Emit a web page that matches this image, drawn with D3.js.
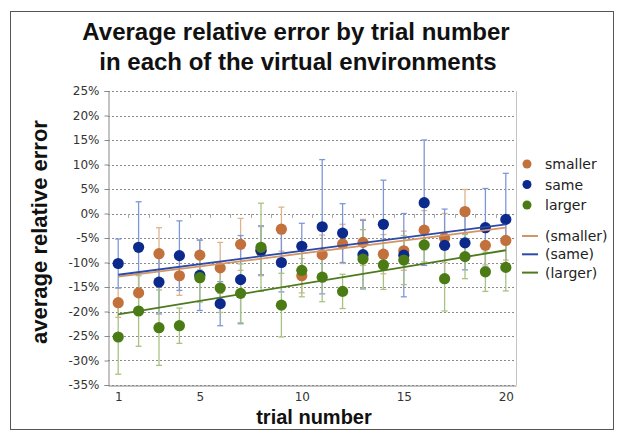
<!DOCTYPE html>
<html>
<head>
<meta charset="utf-8">
<script src="https://cdn.jsdelivr.net/npm/d3@7"></script>
<style>
  body { margin: 0; background: #fff; }
  svg { display: block; }
</style>
</head>
<body>
<svg id="chart" width="624" height="436"></svg>
<script>
// data (percent)
const trials = [1, 2, 3, 4, 5, 6, 7, 8, 9, 10, 11, 12, 13, 14, 15, 16, 17, 18, 19, 20];
const xTickLabels = [1, 5, 10, 15, 20];
const yTicks = [25, 20, 15, 10, 5, 0, -5, -10, -15, -20, -25, -30, -35];

const smaller = [-18.2, -16.2, -8.2, -12.7, -8.5, -11.1, -6.3, -7.7, -3.2, -12.7, -8.4, -6.2, -5.9, -8.3, -7.6, -3.4, -5.0, 0.4, -6.5, -5.5];
const smallerErr = [3, 4, 5.3, 4, 3, 5.2, 5.3, 5, 4.5, 3.5, 4, 4, 4.7, 4, 4, 4, 5, 4.5, 4, 4];

const same = [-10.2, -6.9, -14.0, -8.6, -12.6, -18.4, -13.5, -7.5, -10.0, -6.7, -2.7, -4.0, -8.4, -2.2, -8.5, 2.2, -6.5, -6.0, -2.9, -1.2];
const sameErr = [5, 9.3, 6.5, 7.1, 7.2, 4.5, 9, 5, 6, 4.7, 13.7, 6, 7, 9, 8.5, 12.8, 7.4, 5.5, 8, 9.4];

const larger = [-25.2, -19.9, -23.3, -22.9, -13.1, -15.2, -16.3, -6.9, -18.7, -11.6, -13.0, -15.9, -9.3, -10.5, -9.5, -6.4, -13.3, -8.8, -11.9, -11.0];
const largerErr = [7.6, 7.2, 7.7, 3.6, 5, 5, 6, 9, 6.5, 5.4, 5, 3.5, 6, 5, 5, 3.5, 6.6, 4.5, 4, 4.8];

// linear trend lines, value at trial 1 and trial 20
const trendSmaller = [-12.9, -2.9];
const trendSame = [-12.5, -2.2];
const trendLarger = [-20.6, -7.5];

const seriesNames = ["smaller", "same", "larger"];
const trendNames = ["(smaller)", "(same)", "(larger)"];

const series = [
    { name: seriesNames[0], vals: smaller, err: smallerErr, trend: trendSmaller,
      dot: "#c2703c", bar: "#dcb48e", line: "#d39468" },
    { name: seriesNames[1], vals: same, err: sameErr, trend: trendSame,
      dot: "#0c2a8c", bar: "#7d98d8", line: "#2c4ba6" },
    { name: seriesNames[2], vals: larger, err: largerErr, trend: trendLarger,
      dot: "#4b7b15", bar: "#a9c283", line: "#4d7a1e" }
];

const svg = d3.select("#chart");
const font = "'DejaVu Sans', sans-serif";
const boldFont = "'Liberation Sans', Arial, sans-serif";

// outer frame
svg.append("rect")
    .attr("x", 10.5).attr("y", 11.5)
    .attr("width", 603).attr("height", 418)
    .attr("fill", "none")
    .attr("stroke", "#555");

const x = d3.scaleLinear().domain([0.5, 20.5]).range([108, 516]);
const y = d3.scaleLinear().domain([-35, 25]).range([385, 91]);

// grid
svg.append("g")
    .selectAll("line")
    .data(yTicks)
    .enter()
    .append("line")
    .attr("x1", x(0.5)).attr("x2", x(20.5))
    .attr("y1", d => Math.round(y(d)) + 0.5)
    .attr("y2", d => Math.round(y(d)) + 0.5)
    .attr("stroke", "#8a8a8a")
    .attr("stroke-dasharray", "2,2");

// plot frame: right border, left and bottom axis lines
svg.append("line")
    .attr("x1", Math.round(x(20.5)) + 0.5).attr("x2", Math.round(x(20.5)) + 0.5)
    .attr("y1", y(25)).attr("y2", y(-35))
    .attr("stroke", "#c4c4c4");

const yAxis = d3.axisLeft(y)
    .tickValues(yTicks)
    .tickSize(4)
    .tickFormat(d => d + "%");
svg.append("g")
    .attr("transform", `translate(${Math.round(x(0.5)) + 0.5},0)`)
    .call(yAxis)
    .call(g => {
        g.select(".domain").attr("stroke", "#888");
        g.selectAll(".tick line").attr("stroke", "#888");
        g.selectAll("text")
            .attr("font-family", font)
            .attr("font-size", 12)
            .attr("fill", "#333")
            .attr("x", -9);
    });

const xAxis = d3.axisBottom(x)
    .tickValues(xTickLabels)
    .tickSize(0)
    .tickPadding(7);
svg.append("g")
    .attr("transform", `translate(0,${Math.round(y(-35)) + 0.5})`)
    .call(xAxis)
    .call(g => {
        g.select(".domain").attr("stroke", "#888");
        g.selectAll("text")
            .attr("font-family", font)
            .attr("font-size", 12)
            .attr("fill", "#333");
    });

// small category ticks sitting on the 0% line
svg.append("g")
    .selectAll("line")
    .data(d3.range(1.5, 20.5, 1))
    .enter()
    .append("line")
    .attr("x1", d => Math.round(x(d)) + 0.5).attr("x2", d => Math.round(x(d)) + 0.5)
    .attr("y1", Math.round(y(0))).attr("y2", Math.round(y(0)) + 4)
    .attr("stroke", "#aaa");

// error bars
series.forEach(s => {
    const g = svg.append("g").attr("stroke", s.bar).attr("stroke-width", 1.3);
    trials.forEach((t, i) => {
        const cx = x(t), top = y(s.vals[i] + s.err[i]), bot = y(s.vals[i] - s.err[i]);
        g.append("line").attr("x1", cx).attr("x2", cx).attr("y1", top).attr("y2", bot);
        g.append("line").attr("x1", cx - 3).attr("x2", cx + 3).attr("y1", top).attr("y2", top);
        g.append("line").attr("x1", cx - 3).attr("x2", cx + 3).attr("y1", bot).attr("y2", bot);
    });
});

// markers
series.forEach(s => {
    svg.append("g")
        .selectAll("circle")
        .data(s.vals)
        .enter()
        .append("circle")
        .attr("cx", (d, i) => x(trials[i]))
        .attr("cy", d => y(d))
        .attr("r", 5.6)
        .attr("fill", s.dot);
});

// trend lines
series.forEach(s => {
    svg.append("line")
        .attr("x1", x(trials[0])).attr("x2", x(trials[trials.length - 1]))
        .attr("y1", y(s.trend[0])).attr("y2", y(s.trend[1]))
        .attr("stroke", s.line)
        .attr("stroke-width", 1.8);
});

// legend
const legend = svg.append("g");
series.forEach((s, i) => {
    legend.append("circle")
        .attr("cx", 527).attr("cy", 164 + i * 20.5)
        .attr("r", 4.5)
        .attr("fill", s.dot);
    legend.append("text")
        .attr("x", 545).attr("y", 164 + i * 20.5 + 5)
        .attr("font-family", font).attr("font-size", 14)
        .attr("fill", "#222")
        .text(s.name);
});
series.forEach((s, i) => {
    legend.append("line")
        .attr("x1", 522).attr("x2", 538)
        .attr("y1", 236 + i * 18.3).attr("y2", 236 + i * 18.3)
        .attr("stroke", s.line).attr("stroke-width", 2);
    legend.append("text")
        .attr("x", 545).attr("y", 236 + i * 18.3 + 5)
        .attr("font-family", font).attr("font-size", 14)
        .attr("fill", "#222")
        .text(trendNames[i]);
});

// titles
svg.append("text")
    .attr("x", 296).attr("y", 40)
    .attr("text-anchor", "middle")
    .attr("font-family", boldFont).attr("font-weight", "bold").attr("font-size", 24)
    .attr("fill", "#111")
    .text("Average relative error by trial number");
svg.append("text")
    .attr("x", 298).attr("y", 70)
    .attr("text-anchor", "middle")
    .attr("font-family", boldFont).attr("font-weight", "bold").attr("font-size", 24)
    .attr("fill", "#111")
    .text("in each of the virtual environments");

svg.append("text")
    .attr("transform", "translate(47,232) rotate(-90)")
    .attr("text-anchor", "middle")
    .attr("font-family", boldFont).attr("font-weight", "bold").attr("font-size", 22)
    .attr("fill", "#111")
    .text("average relative error");

svg.append("text")
    .attr("x", 314).attr("y", 424)
    .attr("text-anchor", "middle")
    .attr("font-family", boldFont).attr("font-weight", "bold").attr("font-size", 20)
    .attr("fill", "#111")
    .text("trial number");
</script>
</body>
</html>
